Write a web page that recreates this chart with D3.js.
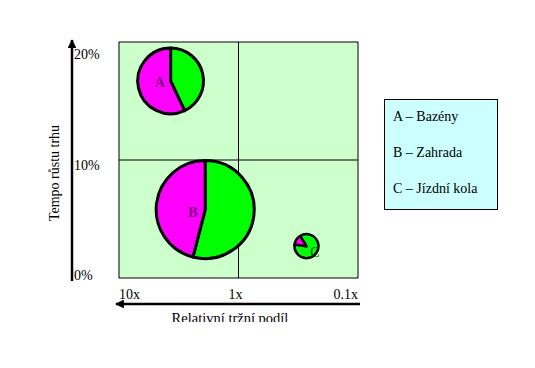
<!DOCTYPE html>
<html><head><meta charset="utf-8">
<script src="https://cdn.jsdelivr.net/npm/d3@7"></script>
<style>body{margin:0;background:#fff}svg{display:block}</style>
</head><body>
<svg id="c" width="535" height="368" font-family="'Liberation Serif', 'DejaVu Serif', serif"></svg>
<script>
// ---- data ----
const categories = ["A", "B", "C"];
const names = ["Bazény", "Zahrada", "Jízdní kola"];
const relShare = [3.7, 1.9, 0.27];      // relative market share (x, log)
const growth = [16.7, 5.8, 2.7];        // market growth %
const size = [45, 100, 6];              // bubble size
const greenShare = [43, 54, 86];
const magentaShare = [57, 46, 14];
const pieStartDeg = [0, 0, 328];
const yTicks = [0, 10, 20];
const yTickLabels = ["0%", "10%", "20%"];
const xTicks = [10, 1, 0.1];
const xTickLabels = ["10x", "1x", "0.1x"];

// ---- layout ----
const svg = d3.select("#c");
const x = d3.scaleLog().domain([10, 0.1]).range([119, 358]);
const y = d3.scaleLinear().domain([0, 20]).range([278, 42]);
const r = d3.scaleSqrt().domain([0, 100]).range([0, 49]);

// plot background
svg.append("rect").attr("x", x(10)).attr("y", y(20))
  .attr("width", x(0.1) - x(10)).attr("height", y(0) - y(20))
  .attr("fill", "#CCFFCC").attr("stroke", "#000").attr("stroke-width", 1);
svg.append("line").attr("x1", x(1)).attr("x2", x(1)).attr("y1", y(20)).attr("y2", y(0))
  .attr("stroke", "#000").attr("stroke-width", 1);
svg.append("line").attr("x1", x(10)).attr("x2", x(0.1)).attr("y1", y(10)).attr("y2", y(10))
  .attr("stroke", "#000").attr("stroke-width", 1);

// arrows
const defs = svg.append("defs");
defs.append("marker").attr("id", "ah").attr("viewBox", "0 0 10 10").attr("refX", 9).attr("refY", 5)
  .attr("markerWidth", 4).attr("markerHeight", 3.5).attr("orient", "auto")
  .attr("markerUnits", "strokeWidth")
  .append("path").attr("d", "M0,0 L10,5 L0,10 Z").attr("fill", "#000");
svg.append("line").attr("x1", 72).attr("x2", 72).attr("y1", 281).attr("y2", 40)
  .attr("stroke", "#000").attr("stroke-width", 2.5).attr("marker-end", "url(#ah)");
svg.append("line").attr("x1", 360).attr("x2", 116).attr("y1", 304).attr("y2", 304)
  .attr("stroke", "#000").attr("stroke-width", 2.5).attr("marker-end", "url(#ah)");

// y tick labels
const yOff = {0: 2, 10: 10, 20: 17};
svg.selectAll(".yt").data(yTicks).join("text").attr("class", "yt")
  .attr("x", 74).attr("y", d => y(d) + yOff[d])
  .attr("font-size", 14).text((d, i) => yTickLabels[i]);
// x tick labels
const xAnchor = ["start", "middle", "end"];
const xDx = [0, -3, 0];
svg.selectAll(".xt").data(xTicks).join("text").attr("class", "xt")
  .attr("x", (d, i) => x(d) + xDx[i]).attr("y", 299)
  .attr("text-anchor", (d, i) => xAnchor[i])
  .attr("font-size", 14).text((d, i) => xTickLabels[i]);

// axis titles
svg.append("text").attr("transform", "translate(59,173) rotate(-90)")
  .attr("text-anchor", "middle").attr("font-size", 14).text("Tempo růstu trhu");
const clip = defs.append("clipPath").attr("id", "cl");
clip.append("rect").attr("x", 0).attr("y", 0).attr("width", 535).attr("height", 322);
svg.append("text").attr("x", 230).attr("y", 323).attr("clip-path", "url(#cl)")
  .attr("text-anchor", "middle").attr("font-size", 14.5).text("Relativní tržní podíl");

// bubbles
const labelOff = [[-0.33, 0.1], [-0.25, 0.08], [0.7, 0.6]];
categories.forEach((c, i) => {
  const cx = x(relShare[i]), cy = y(growth[i]), rr = r(size[i]);
  const g = svg.append("g").attr("transform", `translate(${cx},${cy})`);
  const st = pieStartDeg[i] * Math.PI / 180;
  const arcs = d3.pie().sort(null).value(d => d)
    .startAngle(st).endAngle(st + 2 * Math.PI)([greenShare[i], magentaShare[i]]);
  const arc = d3.arc().innerRadius(0).outerRadius(rr);
  g.selectAll("path").data(arcs).join("path").attr("d", arc)
    .attr("fill", (d, j) => j === 0 ? "#00FF00" : "#FF00FF")
    .attr("stroke", "#000").attr("stroke-width", i === 2 ? 2.5 : 3)
    .attr("stroke-linejoin", "round");
  g.append("text").attr("x", labelOff[i][0] * rr).attr("y", labelOff[i][1] * rr)
    .attr("text-anchor", "middle").attr("dominant-baseline", "middle")
    .attr("font-size", 14).attr("font-weight", i === 2 ? "normal" : "bold")
    .attr("fill", i === 2 ? "#004000" : "#800080").text(c);
});

// legend
svg.append("rect").attr("x", 384.5).attr("y", 99.5).attr("width", 113).attr("height", 110)
  .attr("fill", "#CCFFFF").attr("stroke", "#000").attr("stroke-width", 1);
svg.selectAll(".lg").data(categories).join("text").attr("class", "lg")
  .attr("x", 393).attr("y", (d, i) => 121 + i * 36)
  .attr("font-size", 14).text((d, i) => `${d} – ${names[i]}`);
</script>
</body></html>
